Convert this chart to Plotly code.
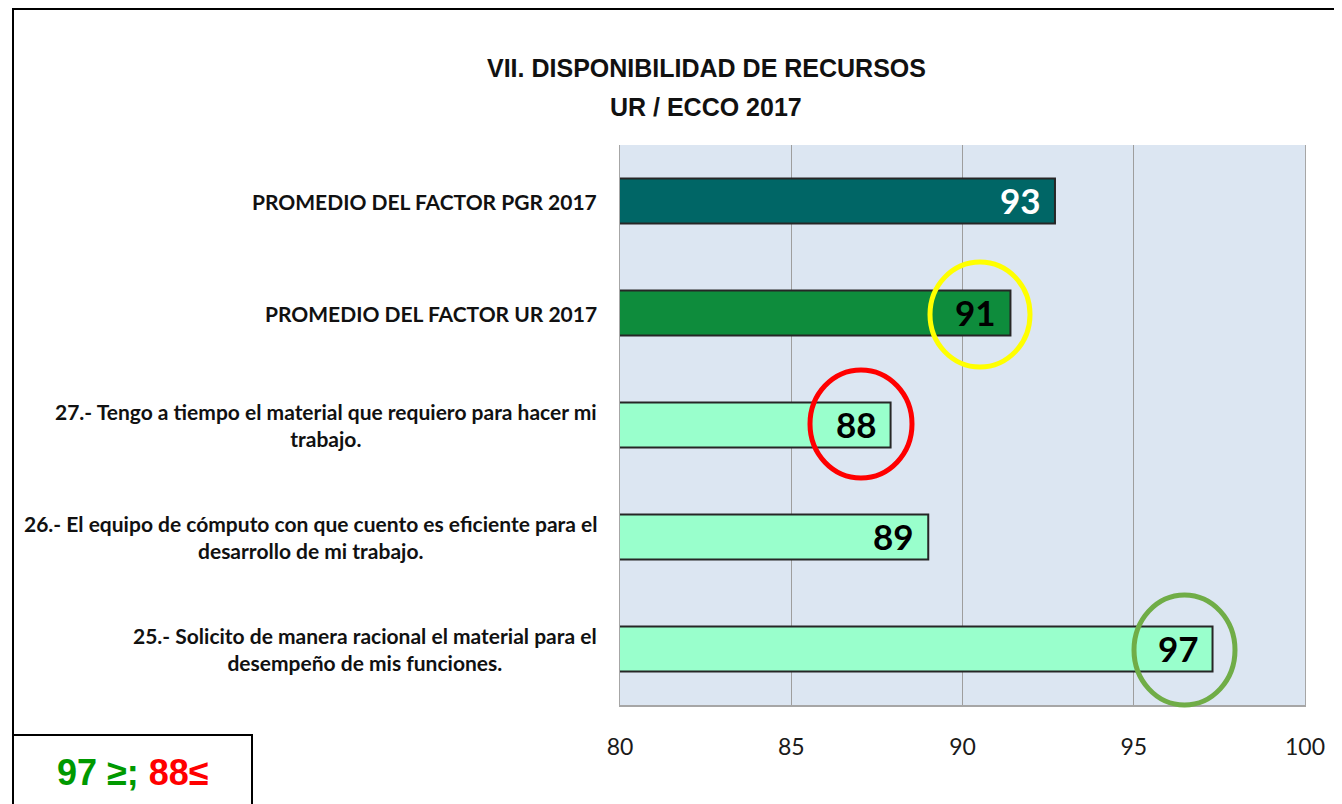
import plotly.graph_objects as go

# ---- data ----
categories = [
    "PROMEDIO DEL FACTOR PGR 2017",
    "PROMEDIO DEL FACTOR UR 2017",
    "27.- Tengo a tiempo el material que requiero para hacer mi<br>trabajo.",
    "26.- El equipo de cómputo con que cuento es eficiente para el<br>desarrollo de mi trabajo.",
    "25.- Solicito de manera racional el material para el<br>desempeño de mis funciones.",
]
values = [92.7, 91.4, 87.9, 89.0, 97.3]
x_ticks = [80, 85, 90, 95, 100]
title_lines = ["VII. DISPONIBILIDAD DE RECURSOS", "UR / ECCO 2017"]
note_high = "97 ≥;"
note_low = "88≤"

# ---- style ----
bar_colors = ["#006666", "#0E8C3C", "#99FFCC", "#99FFCC", "#99FFCC"]
text_colors = ["white", "black", "black", "black", "black"]
LABEL_FONT = "Lato, Liberation Sans, Arial, sans-serif"
WIDE = "Liberation Sans, Arial, sans-serif"

OFF = 8  # page body margin
W, H = 1342 - OFF, 804 - OFF
PLOT_L, PLOT_R, PLOT_T, PLOT_B = 620, 1305, 145, 705  # page pixels
L = PLOT_L - OFF
T = PLOT_T - OFF
R = W - (PLOT_R - OFF)
B = H - (PLOT_B - OFF)
pw, ph = W - L - R, H - T - B


def px2x(px):
    return (px - OFF - L) / pw


def px2y(py):
    return (H - B - (py - OFF)) / ph


fig = go.Figure()
fig.add_trace(go.Bar(
    y=list(range(len(categories))),
    x=values,
    orientation="h",
    base=0,
    width=0.4,
    marker=dict(color=bar_colors, line=dict(color="#262626", width=2)),
    hoverinfo="skip",
))

# value labels at the inner end of each bar
for i, v in enumerate(values):
    fig.add_annotation(
        x=v, y=i, xref="x", yref="y", text=f"{v:.0f}", showarrow=False,
        xanchor="right", yanchor="middle", xshift=-12, yshift=1,
        font=dict(family=LABEL_FONT, size=35, color=text_colors[i], weight="bold"),
    )

fig.update_layout(
    width=W, height=H,
    margin=dict(l=L, r=R, t=T, b=B),
    paper_bgcolor="white",
    plot_bgcolor="#DCE6F2",
    showlegend=False,
    xaxis=dict(
        range=[80, 100], tickvals=x_ticks, ticktext=[str(t) for t in x_ticks],
        showgrid=True, gridcolor="#9E9E9E", gridwidth=1,
        showline=True, linecolor="#A6A6A6", linewidth=2,
        ticks="outside", ticklen=20, tickcolor="rgba(0,0,0,0)",
        tickfont=dict(family=LABEL_FONT, size=23, color="#1a1a1a"),
        zeroline=False, fixedrange=True,
    ),
    yaxis=dict(
        range=[4.5, -0.5], showticklabels=False, showgrid=False,
        showline=True, mirror=True, linecolor="#A6A6A6", linewidth=1,
        zeroline=False, fixedrange=True,
    ),
)

# category labels (centered multi-line blocks, right-aligned to the axis)
for i, c in enumerate(categories):
    fig.add_annotation(
        x=px2x(599), y=i, xref="paper", yref="y",
        text=c, showarrow=False, xanchor="right", yanchor="middle", align="center",
        font=dict(family=LABEL_FONT, size=21, color="#111111", weight="bold"),
    )

# title
for t, py in zip(title_lines, [68, 107]):
    fig.add_annotation(
        x=px2x(706), y=px2y(py), xref="paper", yref="paper",
        text=t, showarrow=False, xanchor="center", yanchor="middle",
        font=dict(family=WIDE, size=25, color="#111111", weight="bold"),
    )

# highlight circles (page-pixel boxes)
circles = [
    ("#FFFF00", (930, 1030, 262, 367)),
    ("#FF0000", (810, 912, 370, 478)),
    ("#70AD47", (1134, 1235, 595, 705)),
]
for col, (x0p, x1p, y0p, y1p) in circles:
    fig.add_shape(
        type="circle", xref="paper", yref="paper",
        x0=px2x(x0p), x1=px2x(x1p), y0=px2y(y1p), y1=px2y(y0p),
        line=dict(color=col, width=5),
    )

# outer frame
frame = dict(color="black", width=2)
fig.add_shape(type="line", xref="paper", yref="paper",
              x0=px2x(13), x1=px2x(1337), y0=px2y(9), y1=px2y(9), line=frame)
fig.add_shape(type="line", xref="paper", yref="paper",
              x0=px2x(13), x1=px2x(13), y0=px2y(8), y1=px2y(806), line=frame)
fig.add_shape(type="line", xref="paper", yref="paper",
              x0=px2x(1337), x1=px2x(1337), y0=px2y(8), y1=px2y(806), line=frame)

# note box
fig.add_shape(type="rect", xref="paper", yref="paper",
              x0=px2x(13), x1=px2x(252), y0=px2y(806), y1=px2y(735),
              line=dict(color="black", width=2), fillcolor="white")
fig.add_annotation(
    x=px2x(133), y=px2y(772), xref="paper", yref="paper",
    text=f"<span style='color:#009900'>{note_high}</span> <span style='color:#FF0000'>{note_low}</span>",
    showarrow=False, xanchor="center", yanchor="middle",
    font=dict(family=WIDE, size=36, weight="bold"),
)

fig.write_html("out.html")
